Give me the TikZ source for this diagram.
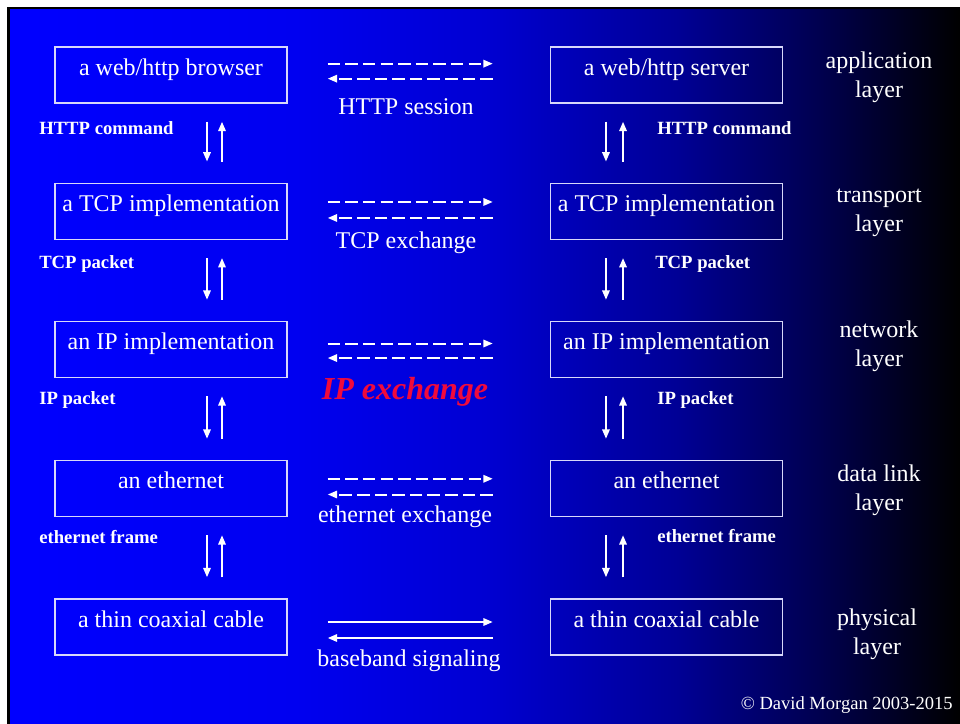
\documentclass[tikz,border=0pt]{standalone}
\usepackage{fontspec}
\setmainfont{Liberation Serif}
\usetikzlibrary{arrows.meta}
\definecolor{bgA}{RGB}{0,0,255}
\definecolor{bgB}{RGB}{0,0,240}
\definecolor{bgC}{RGB}{0,0,210}
\definecolor{bgD}{RGB}{0,0,150}
\definecolor{bgE}{RGB}{0,0,80}
\definecolor{boxline}{RGB}{215,215,250}
\definecolor{ipred}{RGB}{240,10,60}
\pgfdeclarehorizontalshading{slidebg}{100bp}{color(0bp)=(bgA); color(25bp)=(bgA);
  color(40bp)=(bgB); color(50bp)=(bgC); color(60bp)=(bgD); color(67.5bp)=(bgE);
  color(75bp)=(black); color(100bp)=(black)}

\begin{document}
\begin{tikzpicture}[x=0.75pt,y=-0.75pt,
  box/.style={draw=boxline,line width=1.1pt,minimum width=174pt,minimum height=42pt,
    inner sep=0pt,text=white,text height=7pt,text depth=7pt,font=\fontsize{18}{21}\selectfont},
  layer/.style={text=white,align=center,font=\fontsize{18}{21.75}\selectfont},
  sess/.style={text=white,font=\fontsize{18}{21}\selectfont},
  msg/.style={text=white,anchor=west,inner sep=0pt,font=\bfseries\fontsize{14}{17}\selectfont},
  flow/.style={white,line width=1.5pt,-{Triangle[length=7pt,width=5.5pt]}},
  link/.style={flow,dash pattern=on 9.4pt off 3.8pt}]
% slide background
\fill[white] (0,0) rectangle (960,724);
\fill[black] (7,7) rectangle (960,724);
\shade[shading=slidebg] (10,9.5) rectangle (960,724);
% left stack
\node at (171,75) [box](lweb){a web/http browser};
\node at (171,211.3) [box](ltcp){a TCP implementation};
\node at (171,349.5) [box](lip){an IP implementation};
\node at (171,488.5) [box](leth){an ethernet};
\node at (171,627) [box](lcab){a thin coaxial cable};
% right stack
\node at (666.5,75) [box](rweb){a web/http server};
\node at (666.5,211.3) [box](rtcp){a TCP implementation};
\node at (666.5,349.5) [box](rip){an IP implementation};
\node at (666.5,488.5) [box](reth){an ethernet};
\node at (666.5,627) [box](rcab){a thin coaxial cable};
% layer names
\node at (879,77) [layer](appl){application\\layer};
\node at (879,213) [layer](tran){transport\\layer};
\node at (879,346) [layer](netw){network\\layer};
\node at (879,490) [layer](dlnk){data link\\layer};
\node at (877,634) [layer](phys){physical\\layer};
% what moves between the layers
\node at (39,128) [msg](lcmd){HTTP command};
\node at (39,264) [msg](lseg){TCP packet};
\node at (39,400) [msg](lpkt){IP packet};
\node at (39,537) [msg](lfrm){ethernet frame};
\node at (657,128) [msg](rcmd){HTTP command};
\node at (655,264) [msg](rseg){TCP packet};
\node at (657,400) [msg](rpkt){IP packet};
\node at (657,536) [msg](rfrm){ethernet frame};
% peer exchanges
\node at (406,107) [sess](hsess){HTTP session};
\node at (406,243) [sess](tsess){TCP exchange};
\node at (405,392) [text=ipred,font=\bfseries\itshape\fontsize{24}{28}\selectfont](isess){IP exchange};
\node at (405,517) [sess](esess){ethernet exchange};
\node at (409,661) [sess](bsess){baseband signaling};
\node at (953,705) [anchor=east,inner sep=0pt,text=white,font=\fontsize{13.9}{16}\selectfont](copy){\textcopyright\ David Morgan 2003-2015};
% vertical flows, left
\draw[flow,shorten <=13.5pt,shorten >=15.75pt]([xshift=27pt]lweb.south) -- ([xshift=27pt]ltcp.north);
\draw[flow,shorten <=15.75pt,shorten >=13.5pt]([xshift=38.25pt]ltcp.north) -- ([xshift=38.25pt]lweb.south);
\draw[flow,shorten <=13.5pt,shorten >=15.75pt]([xshift=27pt]ltcp.south) -- ([xshift=27pt]lip.north);
\draw[flow,shorten <=15.75pt,shorten >=13.5pt]([xshift=38.25pt]lip.north) -- ([xshift=38.25pt]ltcp.south);
\draw[flow,shorten <=13.5pt,shorten >=15.75pt]([xshift=27pt]lip.south) -- ([xshift=27pt]leth.north);
\draw[flow,shorten <=15.75pt,shorten >=13.5pt]([xshift=38.25pt]leth.north) -- ([xshift=38.25pt]lip.south);
\draw[flow,shorten <=13.5pt,shorten >=15.75pt]([xshift=27pt]leth.south) -- ([xshift=27pt]lcab.north);
\draw[flow,shorten <=15.75pt,shorten >=13.5pt]([xshift=38.25pt]lcab.north) -- ([xshift=38.25pt]leth.south);
% vertical flows, right
\draw[flow,shorten <=13.5pt,shorten >=15.75pt]([xshift=-45.4pt]rweb.south) -- ([xshift=-45.4pt]rtcp.north);
\draw[flow,shorten <=15.75pt,shorten >=13.5pt]([xshift=-32.6pt]rtcp.north) -- ([xshift=-32.6pt]rweb.south);
\draw[flow,shorten <=13.5pt,shorten >=15.75pt]([xshift=-45.4pt]rtcp.south) -- ([xshift=-45.4pt]rip.north);
\draw[flow,shorten <=15.75pt,shorten >=13.5pt]([xshift=-32.6pt]rip.north) -- ([xshift=-32.6pt]rtcp.south);
\draw[flow,shorten <=13.5pt,shorten >=15.75pt]([xshift=-45.4pt]rip.south) -- ([xshift=-45.4pt]reth.north);
\draw[flow,shorten <=15.75pt,shorten >=13.5pt]([xshift=-32.6pt]reth.north) -- ([xshift=-32.6pt]rip.south);
\draw[flow,shorten <=13.5pt,shorten >=15.75pt]([xshift=-45.4pt]reth.south) -- ([xshift=-45.4pt]rcab.north);
\draw[flow,shorten <=15.75pt,shorten >=13.5pt]([xshift=-32.6pt]rcab.north) -- ([xshift=-32.6pt]reth.south);
% horizontal exchanges
\draw[link,shorten <=30pt,shorten >=42.75pt]([yshift=8.5pt]lweb.east) -- ([yshift=8.5pt]rweb.west);
\draw[link,shorten <=42.75pt,shorten >=30pt]([yshift=-2.75pt]rweb.west) -- ([yshift=-2.75pt]lweb.east);
\draw[link,shorten <=30pt,shorten >=42.75pt]([yshift=7pt]ltcp.east) -- ([yshift=7pt]rtcp.west);
\draw[link,shorten <=42.75pt,shorten >=30pt]([yshift=-5pt]rtcp.west) -- ([yshift=-5pt]ltcp.east);
\draw[link,shorten <=30pt,shorten >=42.75pt]([yshift=4.5pt]lip.east) -- ([yshift=4.5pt]rip.west);
\draw[link,shorten <=42.75pt,shorten >=30pt]([yshift=-6.4pt]rip.west) -- ([yshift=-6.4pt]lip.east);
\draw[link,shorten <=30pt,shorten >=42.75pt]([yshift=7.3pt]leth.east) -- ([yshift=7.3pt]reth.west);
\draw[link,shorten <=42.75pt,shorten >=30pt]([yshift=-4.5pt]reth.west) -- ([yshift=-4.5pt]leth.east);
\draw[flow,shorten <=30pt,shorten >=42.75pt]([yshift=3.75pt]lcab.east) -- ([yshift=3.75pt]rcab.west);
\draw[flow,shorten <=42.75pt,shorten >=30pt]([yshift=-8.25pt]rcab.west) -- ([yshift=-8.25pt]lcab.east);
\end{tikzpicture}
\end{document}
